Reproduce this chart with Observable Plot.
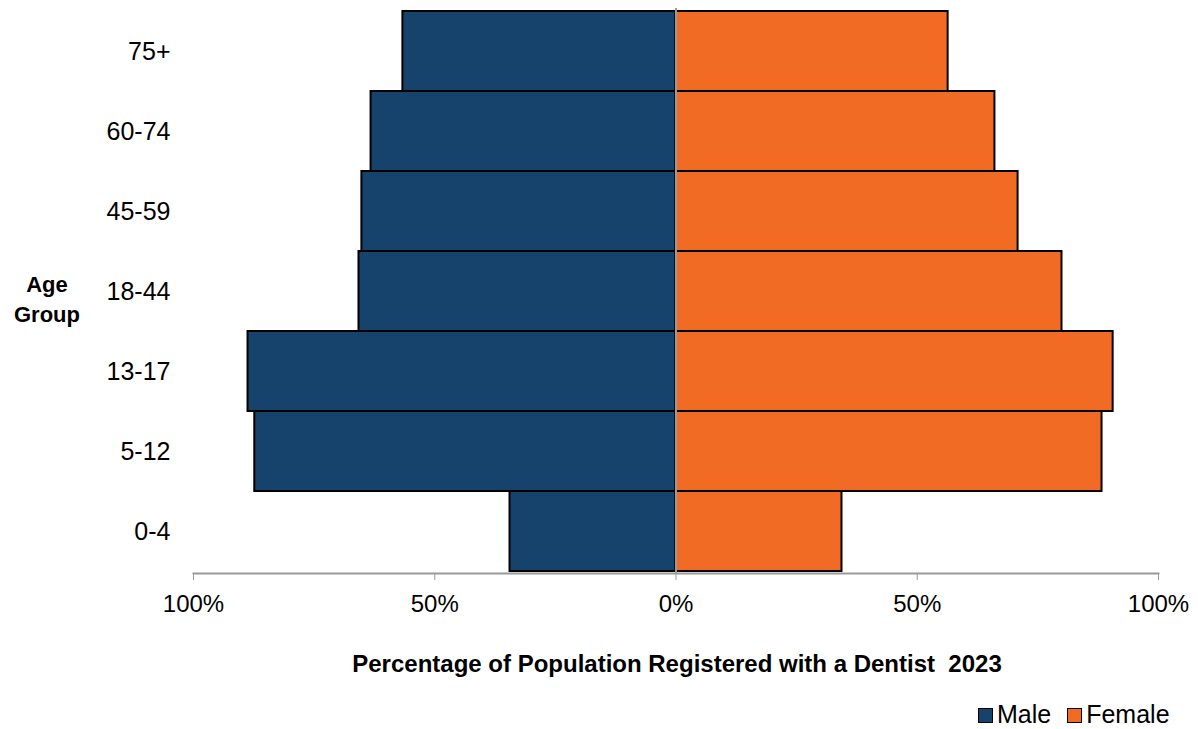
<!DOCTYPE html>
<html><head><meta charset="utf-8">
<script src="https://cdn.jsdelivr.net/npm/d3@7"></script>
<script src="https://cdn.jsdelivr.net/npm/@observablehq/plot@0.6"></script>
<style>
body{margin:0;background:#fff;font-family:"Liberation Sans",Arial,sans-serif;}
#wrap{position:relative;width:1198px;height:729px;}
#xlabel{position:absolute;left:0;width:1354px;top:650px;text-align:center;font-size:24px;font-weight:bold;color:#000;}
#ylabel{position:absolute;left:12px;width:70px;top:270px;text-align:center;font-size:22px;font-weight:bold;line-height:30px;color:#000;}
#legend{position:absolute;top:700px;left:978px;font-size:25px;display:flex;align-items:center;color:#000;}
#legend .sw{display:inline-block;width:13px;height:13px;border:1.5px solid #000;margin-right:4px;vertical-align:0px;}
</style></head>
<body><div id="wrap"><div id="chart"></div>
<div id="xlabel">Percentage of Population Registered with a Dentist&nbsp; 2023</div>
<div id="ylabel">Age<br>Group</div>
<div id="legend"></div>
</div>
<script>
const ageGroups = ["75+","60-74","45-59","18-44","13-17","5-12","0-4"];
const male   = [56.6, 63.2, 65.1, 65.7, 88.7, 87.3, 34.4];
const female = [56.4, 66.1, 70.9, 80.0, 90.6, 88.3, 34.4];
const seriesNames = ["Male","Female"];
const seriesColors = ["#16436B","#F26B25"];
const xTicks = [-100,-50,0,50,100];

const rows = [];
ageGroups.forEach((g,i)=>{
  rows.push({age:g, sex:"Male", v:-male[i]});
  rows.push({age:g, sex:"Female", v:female[i]});
});

const chart = Plot.plot({
  width:1198, height:640,
  marginTop:8, marginBottom:67, marginLeft:193, marginRight:40,
  style:{fontFamily:"'Liberation Sans', Arial, sans-serif", fontSize:"24px", color:"#000", background:"#fff"},
  x:{domain:[-100,100]},
  y:{domain:ageGroups, padding:0},
  color:{domain:seriesNames, range:seriesColors},
  marks:[
    Plot.barX(rows,{y:"age", x1:0, x2:"v", fill:"sex", stroke:"#000", strokeWidth:2, inset:0}),
    Plot.ruleX([0],{stroke:"#9a9a9a", strokeWidth:2}),
    Plot.frame({anchor:"bottom", stroke:"#9a9a9a", strokeWidth:2}),
    Plot.axisX({ticks:xTicks, tickSize:7, stroke:"#9a9a9a", tickPadding:14, tickFormat:d=>Math.abs(d)+"%", label:null, fontSize:24}),
    Plot.axisY({tickSize:0, tickPadding:23, label:null, fontSize:25})
  ]
});
document.getElementById("chart").appendChild(chart);

const lg = document.getElementById("legend");
seriesNames.forEach((n,i)=>{
  const s = document.createElement("span");
  s.style.marginRight = i===0 ? "16px" : "0";
  s.innerHTML = `<span class="sw" style="background:${seriesColors[i]}"></span>${n}`;
  lg.appendChild(s);
});
</script></body></html>
